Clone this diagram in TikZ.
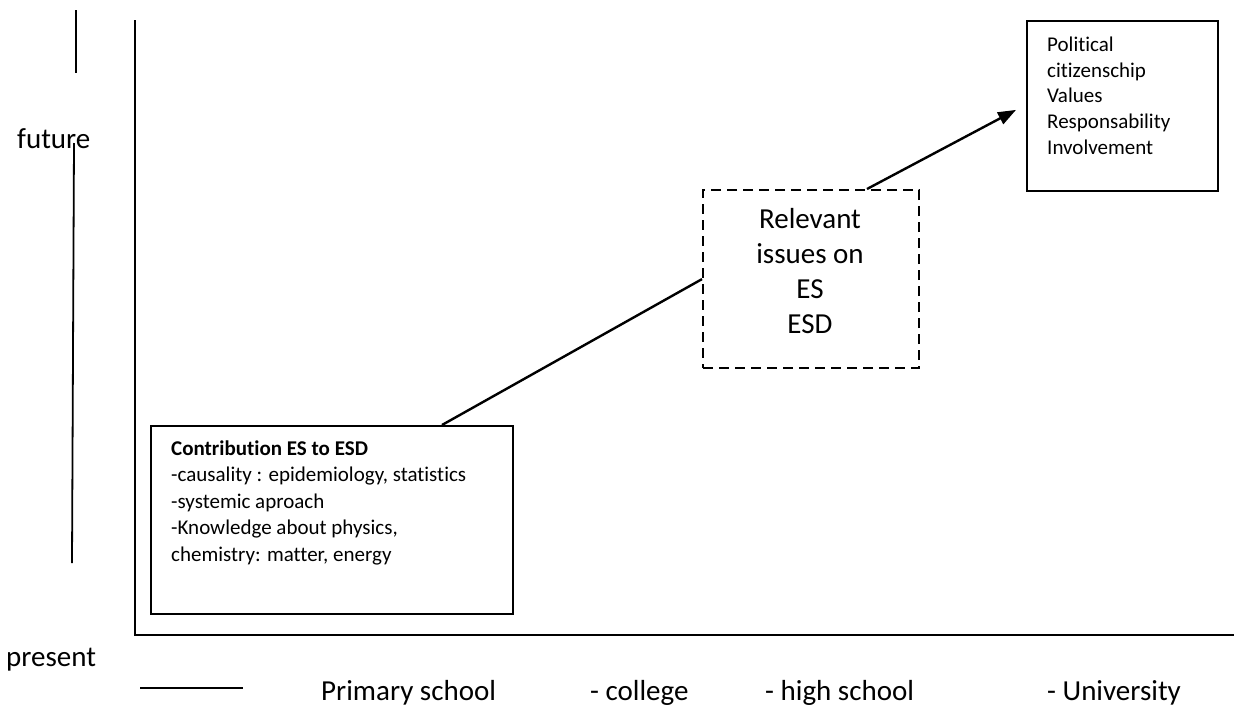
\documentclass[tikz,border=0pt]{standalone}
\usepackage{fontspec}
\setmainfont{Carlito}[Ligatures={NoCommon,NoRare,NoContextual}]
\usetikzlibrary{arrows.meta}
\begin{document}
\begin{tikzpicture}[x=1pt,y=-1pt,
  axis/.style={line width=1.5pt},
  stroke/.style={line width=1.8pt},
  boxline/.style={draw, line width=1.8pt, inner sep=0pt},
  dashbox/.style={draw, line width=2.2pt, inner sep=0pt, dash pattern=on 10pt off 6pt},
  conn/.style={line width=2.4pt},
  small/.style={font=\fontsize{21}{26.4}\selectfont, inner sep=0pt, align=left},
  polfont/.style={font=\fontsize{21}{25.6}\selectfont, inner sep=0pt, align=left},
  big/.style={font=\fontsize{29}{35}\selectfont, inner sep=0pt}]
\useasboundingbox (0,0) rectangle (1234,707);

% axes
\coordinate (ytop) at (135,20);
\coordinate (xend) at (1234,635);
\draw[axis] (ytop) |- (xend);

% side lines
\coordinate (s1a) at (76,10);
\coordinate (s1b) at (76,73);
\draw[stroke] (s1a) -- (s1b);
\coordinate (s2a) at (74,143);
\coordinate (s2b) at (72,563);
\draw[stroke] (s2a) -- (s2b);
\coordinate (s3a) at (140,688);
\coordinate (s3b) at (243,688);
\draw[stroke] (s3a) -- (s3b);

% labels
\node[big, anchor=base west] (future) at (17,148) {future};
\node[big, anchor=base west] (present) at (6,666) {present};
\node[big, anchor=base west] (prim) at (321,700) {Primary school};
\node[big, anchor=base west] (coll) at (590,700) {- college};
\node[big, anchor=base west] (high) at (765,700) {- high school};
\node[big, anchor=base west] (univ) at (1047,700) {- University};

% boxes
\node[boxline, anchor=north west, minimum width=362pt, minimum height=188pt] (contrib) at (150,425) {};
\node[small, anchor=base west] (contribtxt) at (171,561) {\textbf{Contribution ES to ESD}\\-causality : epidemiology, statistics\\-systemic aproach\\-Knowledge about physics,\\chemistry: matter, energy};

\node[dashbox, anchor=north west, minimum width=216pt, minimum height=178pt] (rel) at (702,189) {};
\node[big, align=center, anchor=base] (reltxt) at (810,333) {Relevant\\issues on\\ES\\ESD};

\node[boxline, anchor=north west, minimum width=191pt, minimum height=170pt] (pol) at (1026,20) {};
\node[polfont, anchor=base west] (poltxt) at (1047,154) {Political\\citizenschip\\Values\\Responsability\\Involvement};

% connectors
\draw[conn] ([xshift=292pt]contrib.north west) -- (rel.west);
\draw[conn, -{Triangle[length=18pt,width=13pt]}] ([xshift=165pt]rel.north west) -- ([xshift=-10pt,yshift=-4pt]pol.west);
\end{tikzpicture}
\end{document}
